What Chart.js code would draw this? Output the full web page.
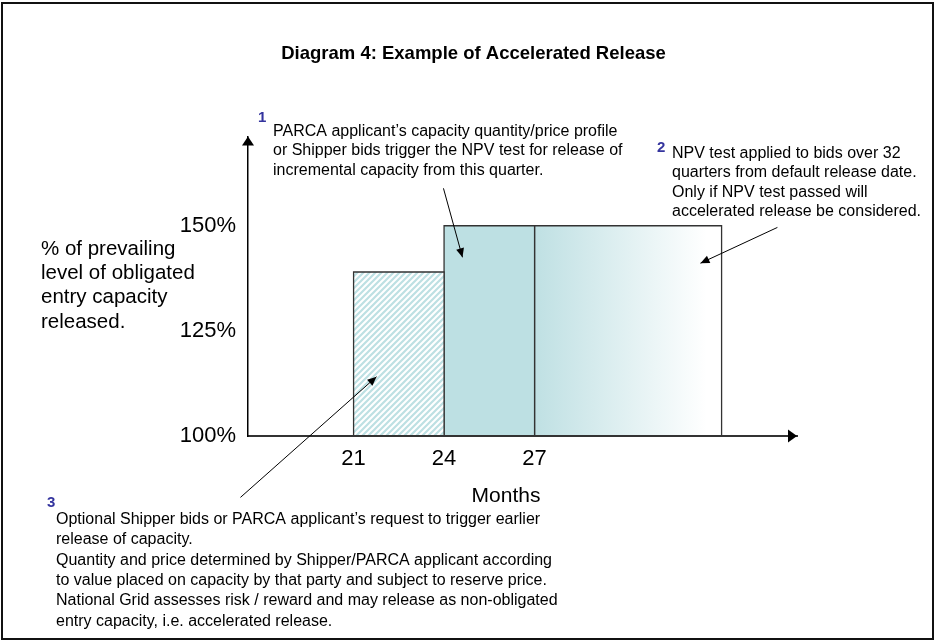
<!DOCTYPE html>
<html>
<head>
<meta charset="utf-8">
<title>Diagram 4: Example of Accelerated Release</title>
<script src="https://cdn.jsdelivr.net/npm/chart.js@4.4.1/dist/chart.umd.min.js"></script>
<style>
  html, body { margin: 0; padding: 0; background: #fff; }
  #wrap { position: relative; width: 937px; height: 641px; }
  #frame { position: absolute; left: 1px; top: 2px; width: 933px; height: 638px;
           box-sizing: border-box; border: 2px solid #111; pointer-events: none; }
</style>
</head>
<body>
<div id="wrap">
  <canvas id="releaseChart"></canvas>
  <div id="frame"></div>
</div>
<script>
// month boundaries of each release block, and level released in each block (%)
const blockEdges = [21, 24, 27, 33.2];
const blockLevels = [139, 150, 150];
const baseLevel = 100;
const monthTicks = [21, 24, 27];
const levelTicks = [100, 125, 150];

// callout arrows in axis units: [fromMonth, fromLevel, toMonth, toLevel]
const calloutArrows = [
    [23.98, 158.9, 24.61, 142.5],
    [35.05, 149.6, 32.50, 141.1],
    [17.25, 85.4, 21.76, 114.1]
];

const yTitle = ["% of prevailing", "level of obligated", "entry capacity", "released."];
const note1 = [
    "PARCA applicant\u2019s capacity quantity/price profile",
    "or Shipper bids trigger the NPV test for release of",
    "incremental capacity from this quarter."
];
const note2 = [
    "NPV test applied to bids over 32",
    "quarters from default release date.",
    "Only if NPV test passed will",
    "accelerated release be considered."
];
const note3 = [
    "Optional Shipper bids or PARCA applicant\u2019s request to trigger earlier",
    "release of capacity.",
    "Quantity and price determined by Shipper/PARCA applicant according",
    "to value placed on capacity by that party and subject to reserve price.",
    "National Grid assesses risk / reward and may release as non-obligated",
    "entry capacity, i.e. accelerated release."
];

const FONT = "'Liberation Sans', Arial, sans-serif";
const TEAL = '#bde0e3';

// hatched fill for the optional early block
function makeHatch() {
    const c = document.createElement('canvas');
    c.width = 6; c.height = 6;
    const g = c.getContext('2d');
    g.fillStyle = '#fff';
    g.fillRect(0, 0, 6, 6);
    g.strokeStyle = TEAL;
    g.lineWidth = 2.2;
    g.beginPath();
    g.moveTo(-1, 1); g.lineTo(1, -1);
    g.moveTo(0, 6); g.lineTo(6, 0);
    g.moveTo(5, 7); g.lineTo(7, 5);
    g.stroke();
    return g.createPattern(c, 'repeat');
}

function fadeFill(c) {
    const chart = c.chart;
    if (!chart.chartArea) return TEAL;
    const xs = chart.scales.x;
    const g = chart.ctx.createLinearGradient(xs.getPixelForValue(blockEdges[2]), 0, xs.getPixelForValue(blockEdges[3]), 0);
    g.addColorStop(0, '#bfe0e3');
    g.addColorStop(0.92, '#ffffff');
    g.addColorStop(1, '#ffffff');
    return g;
}

const fills = [makeHatch(), TEAL, fadeFill];

const datasets = blockLevels.map((lvl, i) => ({
    data: [
        { x: blockEdges[i], y: baseLevel },
        { x: blockEdges[i], y: lvl },
        { x: blockEdges[i + 1], y: lvl },
        { x: blockEdges[i + 1], y: baseLevel }
    ],
    fill: 'start',
    backgroundColor: fills[i],
    borderColor: '#333',
    borderWidth: 1.3,
    pointRadius: 0,
    tension: 0
}));

function arrowHead(ctx, x, y, angle, len, half) {
    ctx.save();
    ctx.translate(x, y);
    ctx.rotate(angle);
    ctx.beginPath();
    ctx.moveTo(0, 0);
    ctx.lineTo(-len, -half);
    ctx.lineTo(-len, half);
    ctx.closePath();
    ctx.fill();
    ctx.restore();
}

function writeLines(ctx, lines, x, y, step) {
    lines.forEach((t, i) => ctx.fillText(t, x, y + i * step));
}

const notesPlugin = {
    id: 'notes',
    afterDraw(chart) {
        const { ctx, chartArea: a, scales: { x, y } } = chart;
        ctx.save();
        ctx.fillStyle = '#000';
        ctx.strokeStyle = '#000';

        // axis arrow heads
        arrowHead(ctx, a.left, a.top, -Math.PI / 2, 9, 6);
        arrowHead(ctx, a.right, a.bottom, 0, 9, 6.5);

        // callout arrows
        ctx.lineWidth = 1;
        calloutArrows.forEach(([m0, l0, m1, l1]) => {
            const x0 = x.getPixelForValue(m0), y0 = y.getPixelForValue(l0);
            const x1 = x.getPixelForValue(m1), y1 = y.getPixelForValue(l1);
            ctx.beginPath();
            ctx.moveTo(x0, y0);
            ctx.lineTo(x1, y1);
            ctx.stroke();
            arrowHead(ctx, x1, y1, Math.atan2(y1 - y0, x1 - x0), 9, 4);
        });

        // axis titles
        ctx.textBaseline = 'alphabetic';
        ctx.textAlign = 'left';
        ctx.font = '20.5px ' + FONT;
        writeLines(ctx, yTitle, 41, 255, 24.2);
        ctx.font = '21px ' + FONT;
        ctx.textAlign = 'center';
        ctx.fillText('Months', 506, 502);

        // numbered notes
        ctx.textAlign = 'left';
        ctx.font = '16px ' + FONT;
        writeLines(ctx, note1, 273, 136, 19.3);
        writeLines(ctx, note2, 672, 158, 19.3);
        writeLines(ctx, note3, 56, 524, 20.3);

        ctx.font = 'bold 15px ' + FONT;
        ctx.fillStyle = '#34349e';
        ctx.fillText('1', 258, 122);
        ctx.fillText('2', 657, 152);
        ctx.fillText('3', 47, 507);
        ctx.restore();
    }
};

// invisible grid (still computes the border position), border drawn over the blocks
const hiddenGrid = { display: true, drawOnChartArea: false, drawTicks: false, color: 'rgba(0,0,0,0)' };

new Chart(document.getElementById('releaseChart'), {
    type: 'line',
    data: { datasets: datasets },
    options: {
        responsive: true,
        maintainAspectRatio: false,
        animation: false,
        layout: { padding: { left: 150, right: 140, top: 0, bottom: 0 } },
        plugins: {
            legend: { display: false },
            tooltip: { enabled: false },
            title: {
                display: true,
                text: 'Diagram 4: Example of Accelerated Release',
                color: '#000',
                font: { family: FONT, size: 18.5, weight: 'bold' },
                padding: { top: 43, bottom: 71.4 }
            }
        },
        scales: {
            x: {
                type: 'linear',
                min: 17.5,
                max: 35.7,
                afterFit: s => { s.height = 205; },
                afterBuildTicks: s => { s.ticks = monthTicks.map(v => ({ value: v })); },
                grid: hiddenGrid,
                border: { display: true, color: '#333', width: 2, z: 1 },
                ticks: { color: '#000', font: { family: FONT, size: 22 }, padding: 10, maxRotation: 0 }
            },
            y: {
                min: baseLevel,
                max: 171.2,
                afterFit: s => { s.width = 98; },
                afterBuildTicks: s => { s.ticks = levelTicks.map(v => ({ value: v })); },
                grid: hiddenGrid,
                border: { display: true, color: '#000', width: 1.5, z: 1 },
                ticks: { color: '#000', font: { family: FONT, size: 22 }, padding: 12, callback: v => v + '%' }
            }
        }
    },
    plugins: [notesPlugin]
});
</script>
</body>
</html>
